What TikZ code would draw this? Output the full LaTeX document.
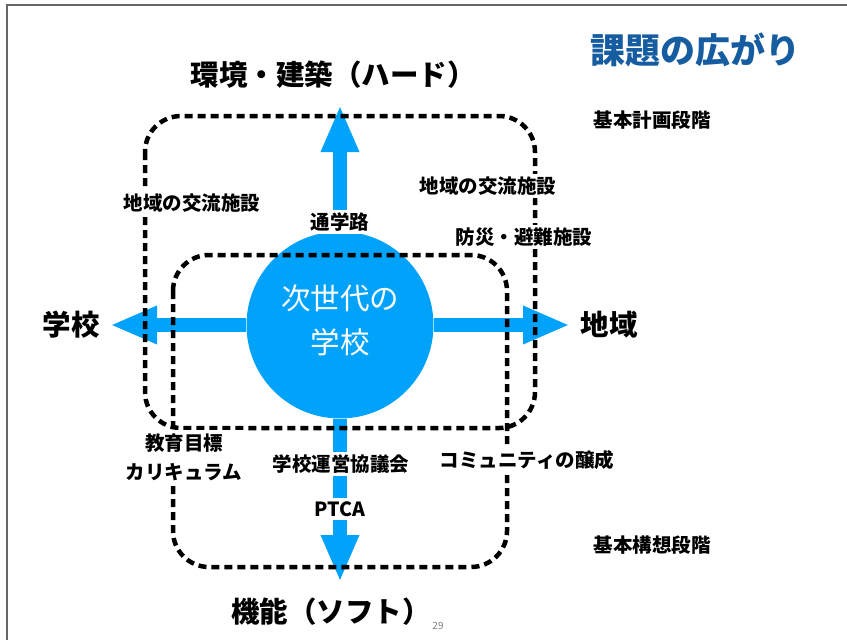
\documentclass[tikz,border=0pt]{standalone}
\usepackage{fontspec}
\setmainfont{Noto Sans CJK JP}
\usetikzlibrary{positioning,arrows.meta}
\definecolor{skyblue}{RGB}{0,162,250}
\definecolor{titleblue}{RGB}{22,92,160}
\tikzset{
  stage/.style={draw=black, line width=4.5pt, dash pattern=on 8pt off 5pt, rounded corners=36pt},
  bigarrow/.style={draw=skyblue, line width=14pt, -{Triangle[length=47pt,width=35pt]}},
  lbl/.style={fill=white, inner sep=3pt, font=\bfseries\fontsize{19.5}{29}\selectfont},
  axislbl/.style={font=\bfseries\fontsize{28.5}{34}\selectfont},
}

\begin{document}
\begin{tikzpicture}[x=1pt,y=-1pt]
\useasboundingbox (0,0) rectangle (847,640);
% slide frame
\draw[gray!80!black, line width=1.5pt] (7,640) -- (7,5) -- (847,5);

% title
\node[text=titleblue, font=\bfseries\fontsize{35}{40}\selectfont] (title) at (695,50) {課題の広がり};

% hub and arrows
\node[circle, fill=skyblue, minimum size=187pt, inner sep=0pt] (hub) at (340,325) {};
\coordinate (upTip) at (340,105);
\coordinate (downTip) at (340,582);
\coordinate (leftTip) at (110,325);
\coordinate (rightTip) at (570,325);
\draw[bigarrow] (hub) -- (upTip);
\draw[bigarrow] (hub) -- (downTip);
\draw[bigarrow] (hub) -- (leftTip);
\draw[bigarrow] (hub) -- (rightTip);
\node[text=white, align=center, font=\fontsize{29.5}{44}\selectfont] (hubname) at (340,320) {次世代の\\学校};

% stages
\draw[stage] (145,116) rectangle (535,428);
\draw[stage] (173,255) rectangle (507,567);

% axis labels
\node[axislbl] (hard) at (333,75) {環境・建築（ハード）};
\node[axislbl, inner sep=0pt] (soft) at (331,612) {機能（ソフト）};
\node[axislbl] (school) at (71,325) {学校};
\node[axislbl] (region) at (609,325) {地域};

% labels
\node[lbl] (plan) at (652,120) {基本計画段階};
\node[lbl] (concept) at (652,545) {基本構想段階};
\node[lbl] (commL) at (192,203) {地域の交流施設};
\node[lbl] (commR) at (488,186) {地域の交流施設};
\node[lbl] (route) at (340,222) {通学路};
\node[lbl] (shelter) at (524,237) {防災・避難施設};
\node[lbl, align=center] (goals) at (184,457) {教育目標\\カリキュラム};
\node[lbl] (council) at (341,464) {学校運営協議会};
\node[lbl] (ptca) at (340,509) {PTCA};
\node[lbl] (community) at (527,460) {コミュニティの醸成};
\node[text=gray, font=\fontsize{10}{12}\selectfont, inner sep=0pt] (page) at (438,626) {29};
\end{tikzpicture}
\end{document}
